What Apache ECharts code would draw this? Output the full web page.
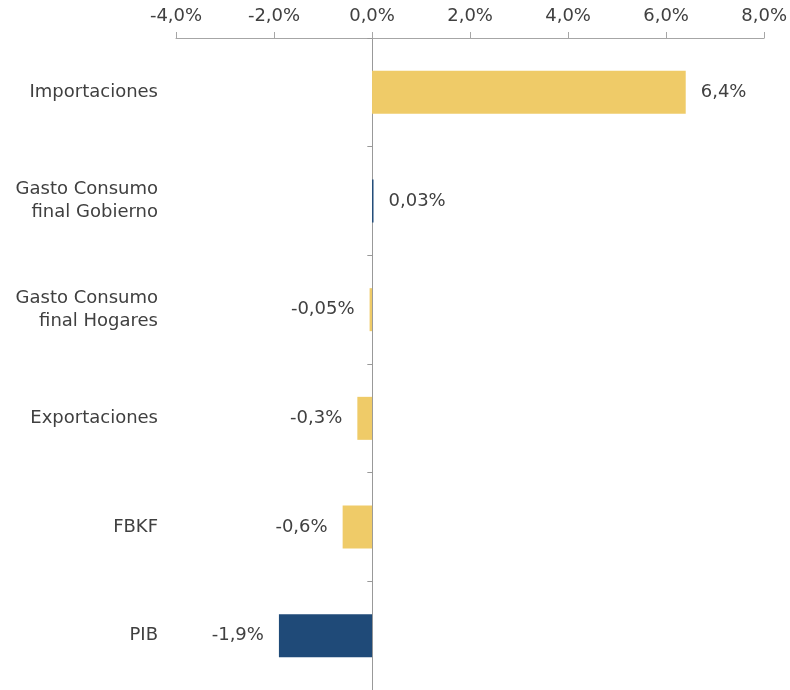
<!DOCTYPE html>
<html>
<head>
<meta charset="utf-8">
<script src="https://cdn.jsdelivr.net/npm/echarts@6/dist/echarts.min.js"></script>
<style>
  html, body { margin: 0; padding: 0; background: #fff; }
  #main { width: 790px; height: 690px; }
</style>
</head>
<body>
<div id="main"></div>
<script>
// datos (de arriba hacia abajo)
var categorias = ["Importaciones", "Gasto Consumo\nfinal Gobierno", "Gasto Consumo\nfinal Hogares", "Exportaciones", "FBKF", "PIB"];
var valores = [6.4, 0.03, -0.05, -0.3, -0.6, -1.9];
var etiquetas = ["6,4%", "0,03%", "-0,05%", "-0,3%", "-0,6%", "-1,9%"];
var colores = ["#EFCB68", "#1F4A78", "#EFCB68", "#EFCB68", "#EFCB68", "#1F4A78"];

var fuente = "DejaVu Sans";
var xMin = -4, xMax = 8;
var gridLeft = 176, gridRight = 25, anchoTotal = 790;
// desplazamiento del eje vertical hasta el cero
var offsetCero = -((0 - xMin) / (xMax - xMin)) * (anchoTotal - gridLeft - gridRight);

var chart = echarts.init(document.getElementById("main"));

var option = {
  animation: false,
  textStyle: { fontFamily: fuente },
  grid: { left: gridLeft, right: gridRight, top: 38, bottom: 0, containLabel: false },
  xAxis: {
    type: "value",
    position: "top",
    min: xMin,
    max: xMax,
    interval: 2,
    axisLine: { show: true, lineStyle: { color: "#A6A6A6", width: 1 } },
    axisTick: { show: true, length: 6, lineStyle: { color: "#A6A6A6" } },
    splitLine: { show: false },
    axisLabel: {
      color: "#404040",
      fontSize: 18,
      fontFamily: fuente,
      margin: 13,
      formatter: function (v) {
        return v.toFixed(1).replace(".", ",") + "%";
      }
    }
  },
  yAxis: [
    {
      // etiquetas de categoría a la izquierda
      type: "category",
      inverse: true,
      data: categorias,
      axisLine: { show: false },
      axisTick: { show: false },
      axisLabel: {
        color: "#404040",
        fontSize: 18,
        fontFamily: fuente,
        lineHeight: 23,
        margin: 18,
        align: "right"
      }
    },
    {
      // eje en el cero con marcas
      type: "category",
      inverse: true,
      position: "left",
      offset: offsetCero,
      data: categorias,
      axisLine: { show: true, onZero: false, lineStyle: { color: "#999999", width: 1 } },
      axisTick: { show: true, length: 5, lineStyle: { color: "#999999", width: 1 } },
      axisLabel: { show: false }
    }
  ],
  series: [
    {
      type: "bar",
      yAxisIndex: 0,
      barWidth: 43,
      data: valores.map(function (v, i) {
        return {
          value: v,
          itemStyle: { color: colores[i] },
          label: {
            show: true,
            position: v >= 0 ? "right" : "left",
            distance: 15,
            color: "#404040",
            fontSize: 18,
            fontFamily: fuente,
            formatter: etiquetas[i]
          }
        };
      }),
      z: 2
    }
  ]
};

chart.setOption(option);
</script>
</body>
</html>
